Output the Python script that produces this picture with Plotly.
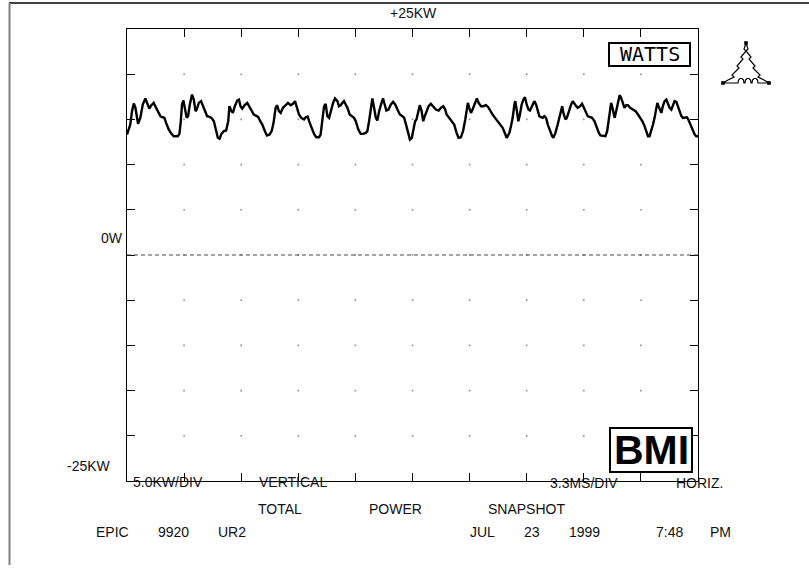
import plotly.graph_objects as go
import numpy as np

# ---------------- data ----------------
# time in ms (3.3 ms / div, 10 divisions), power in kW (5 kW / div)
TIME_MS = [
    0.00, 0.19, 0.29, 0.39, 0.48, 0.64, 0.77, 0.91, 1.06, 1.20,
    1.29, 1.41, 1.54, 1.68, 1.79, 1.93, 2.03, 2.16, 2.26, 2.41,
    2.57, 2.70, 2.93, 3.03, 3.11, 3.18, 3.26, 3.38, 3.45, 3.53,
    3.63, 3.76, 3.86, 3.96, 4.03, 4.15, 4.28, 4.40, 4.54, 4.63,
    4.77, 4.88, 5.02, 5.11, 5.25, 5.35, 5.46, 5.60, 5.73, 5.85,
    5.92, 6.02, 6.12, 6.23, 6.37, 6.47, 6.56, 6.66, 6.79, 6.95,
    7.08, 7.20, 7.33, 7.47, 7.58, 7.70, 7.82, 7.97, 8.09, 8.24,
    8.36, 8.47, 8.59, 8.67, 8.78, 8.88, 9.01, 9.17, 9.30, 9.46,
    9.59, 9.71, 9.82, 9.94, 10.07, 10.23, 10.33, 10.44, 10.56, 10.67,
    10.81, 10.94,
    11.10, 11.19, 11.29, 11.39, 11.48, 11.58, 11.68, 11.77, 11.91, 12.02,
    12.16, 12.25, 12.35, 12.45, 12.54, 12.64, 12.74, 12.87, 13.03, 13.12,
    13.22, 13.37, 13.51, 13.64, 13.80, 13.89, 13.99, 14.09, 14.18, 14.28,
    14.38, 14.47, 14.57, 14.71, 14.80, 14.92, 14.99, 15.11, 15.25, 15.38,
    15.50, 15.63, 15.77, 15.92, 16.02, 16.15, 16.27, 16.35, 16.46, 16.56,
    16.65, 16.73, 16.85, 16.92, 17.02, 17.12, 17.21, 17.31, 17.43, 17.56,
    17.70, 17.85, 18.01, 18.14, 18.28, 18.39, 18.47, 18.62, 18.78, 18.91,
    19.05, 19.16, 19.30, 19.43, 19.55, 19.63, 19.70, 19.78, 19.88, 19.97,
    20.13, 20.22, 20.32, 20.46, 20.59, 20.75, 20.88, 21.00, 21.13, 21.27,
    21.42, 21.56, 21.71, 21.87, 21.94,
    22.00, 22.10, 22.19, 22.29, 22.39, 22.44, 22.52, 22.62, 22.71, 22.81,
    22.91, 23.00, 23.10, 23.20, 23.29, 23.41, 23.54, 23.64, 23.74, 23.83,
    23.93, 24.03, 24.12, 24.22, 24.32, 24.41, 24.57, 24.64, 24.76, 24.89,
    24.99, 25.09, 25.15, 25.22, 25.34, 25.42, 25.53, 25.67, 25.76, 25.86,
    25.96, 26.05, 26.19, 26.30, 26.44, 26.54, 26.63, 26.77, 26.88, 27.02,
    27.15, 27.27, 27.36, 27.50, 27.65, 27.75, 27.85, 27.92, 27.98, 28.08,
    28.18, 28.27, 28.37, 28.47, 28.56, 28.66, 28.75, 28.85, 28.95, 29.08,
    29.24, 29.39, 29.53, 29.66, 29.78, 29.89, 30.01, 30.11, 30.20, 30.30,
    30.40, 30.49, 30.59, 30.65, 30.72, 30.78, 30.88, 30.97, 31.07, 31.17,
    31.26, 31.36, 31.46, 31.55, 31.65, 31.75, 31.84, 31.94, 32.04, 32.13,
    32.27, 32.36, 32.44, 32.52, 32.61, 32.71, 32.81, 32.90, 33.00,
]
POWER_KW = [
    13.33, 14.43, 15.91, 16.76, 16.35, 14.50, 15.17, 16.65, 17.31, 16.57,
    16.20, 16.57, 16.83, 16.28, 15.83, 15.36, 15.24, 15.17, 14.62, 13.88,
    13.40, 13.14, 13.14, 13.40, 14.80, 16.65, 17.09, 15.91, 15.17, 15.36,
    16.65, 17.75, 17.20, 15.91, 16.09, 16.83, 17.02, 16.46, 15.72, 15.36,
    15.28, 15.17, 14.80, 14.06, 12.96, 12.85, 13.40, 13.70, 13.77, 14.80,
    16.46, 15.98, 15.72, 16.46, 17.09, 17.20, 16.46, 16.20, 16.57, 16.83,
    16.46, 15.98, 15.54, 15.36, 15.28, 14.80, 14.43, 13.70, 13.22, 13.33,
    13.70, 14.62, 16.28, 16.57, 15.91, 15.72, 16.28, 16.57, 16.83, 16.57,
    16.72, 17.02, 16.28, 15.54, 15.17, 14.99, 15.24, 15.32, 14.62, 14.06,
    13.40, 13.03,
    13.03, 13.33, 15.17, 16.46, 16.72, 15.36, 15.17, 15.91, 16.83, 17.31,
    17.02, 16.46, 16.57, 16.83, 17.02, 16.65, 16.28, 15.54, 15.36, 15.17,
    14.80, 13.88, 13.40, 13.40, 13.51, 13.70, 14.80, 16.28, 17.31, 16.28,
    15.17, 14.88, 15.91, 16.83, 17.31, 16.46, 15.98, 16.09, 16.65, 16.94,
    16.65, 16.09, 15.54, 15.36, 15.17, 14.25, 13.14, 12.77, 12.96, 14.06,
    14.80, 14.99, 16.09, 16.57, 15.98, 14.80, 15.36, 15.91, 16.46, 16.72,
    16.46, 16.09, 15.98, 16.28, 16.46, 16.09, 15.54, 15.17, 14.80, 14.43,
    13.51, 12.96, 13.03, 13.77, 14.99, 16.35, 16.83, 16.28, 15.72, 16.09,
    16.83, 17.31, 16.83, 16.46, 16.46, 16.57, 16.35, 15.91, 15.54, 15.17,
    14.80, 14.43, 14.06, 13.33, 12.96,
    13.14, 13.51, 14.25, 15.17, 16.65, 17.02, 16.09, 14.80, 15.54, 16.65,
    17.20, 17.46, 16.65, 16.09, 15.98, 16.46, 17.02, 16.65, 15.91, 15.36,
    15.24, 15.17, 15.36, 15.17, 14.43, 13.88, 13.14, 12.96, 13.51, 14.43,
    15.36, 16.09, 16.46, 15.72, 14.99, 15.17, 15.91, 16.65, 17.02, 16.65,
    16.46, 16.28, 16.46, 16.72, 16.09, 15.72, 15.36, 15.24, 15.17, 14.80,
    14.06, 13.51, 13.22, 13.14, 13.14, 13.70, 15.17, 16.28, 16.83, 16.09,
    15.17, 15.91, 17.02, 17.68, 17.38, 16.65, 16.28, 16.57, 16.57, 16.28,
    16.09, 15.91, 15.54, 15.17, 14.80, 14.36, 13.70, 13.14, 13.14, 13.70,
    14.43, 15.17, 16.09, 16.83, 16.46, 16.09, 15.72, 16.46, 17.02, 17.20,
    16.83, 16.28, 16.09, 16.46, 17.02, 16.94, 16.46, 15.91, 15.36, 15.17,
    15.17, 15.24, 14.99, 14.62, 14.06, 13.70, 13.33, 13.14, 13.14,
]
X_DIVS_MS = [0, 3.3, 6.6, 9.9, 13.2, 16.5, 19.8, 23.1, 26.4, 29.7, 33.0]
Y_DIVS_KW = [-25, -20, -15, -10, -5, 0, 5, 10, 15, 20, 25]

assert len(TIME_MS) == len(POWER_KW), (len(TIME_MS), len(POWER_KW))

# ---------------- layout helpers ----------------
W, H = 809, 575
L, R, T, B = 127, 698, 29, 481          # plot area in pixels


def fx(x):
    return (x - L) / (R - L)


def fy(y):
    return (B - y) / (B - T)


FONT = "Liberation Sans, Arial, sans-serif"
INK = "#111111"

fig = go.Figure()

# grid dots at interior division intersections
gx, gy = np.meshgrid(X_DIVS_MS[1:-1], Y_DIVS_KW[1:-1])
fig.add_trace(go.Scatter(
    x=gx.ravel(), y=gy.ravel(), mode="markers",
    marker=dict(symbol="square", size=1.6, color="#8c8c8c", line=dict(width=0)),
    hoverinfo="skip", showlegend=False))

# the power waveform
fig.add_trace(go.Scatter(
    x=TIME_MS, y=POWER_KW, mode="lines",
    line=dict(color="#000000", width=2.4),
    showlegend=False))

axis_common = dict(
    showgrid=False, zeroline=False, showline=True, linecolor="#000000",
    linewidth=1, mirror="ticks", ticks="inside", ticklen=8, tickwidth=1,
    tickcolor="#000000", showticklabels=False, fixedrange=True)

fig.update_layout(
    width=W, height=H,
    margin=dict(l=L, r=W - R, t=T, b=H - B),
    paper_bgcolor="white", plot_bgcolor="white",
    xaxis=dict(range=[0, 33], tickmode="array", tickvals=X_DIVS_MS, **axis_common),
    yaxis=dict(range=[-25, 25], tickmode="array", tickvals=Y_DIVS_KW, **axis_common),
    font=dict(family=FONT, size=14, color=INK),
)

shapes = []
# page frame (top and left edges)
shapes.append(dict(type="line", xref="paper", yref="paper",
                   x0=fx(9), x1=fx(809), y0=fy(3), y1=fy(3),
                   line=dict(color="#000000", width=1.5)))
shapes.append(dict(type="line", xref="paper", yref="paper",
                   x0=fx(9.5), x1=fx(9.5), y0=fy(3), y1=fy(565),
                   line=dict(color="#808080", width=2)))
# zero reference (dashed)
shapes.append(dict(type="line", xref="x domain", yref="y",
                   x0=0, x1=1, y0=0, y1=0,
                   line=dict(color="#444444", width=1, dash="4px,3px")))
# WATTS box
shapes.append(dict(type="rect", xref="paper", yref="paper",
                   x0=fx(609), x1=fx(690), y0=fy(43), y1=fy(66),
                   line=dict(color="#000000", width=2), fillcolor="white"))
# BMI box
shapes.append(dict(type="rect", xref="paper", yref="paper",
                   x0=fx(610), x1=fx(692), y0=fy(428), y1=fy(472),
                   line=dict(color="#000000", width=2), fillcolor="white"))

# triangle logo (outline with zig-zag sides and coil base)
tri = [(746, 43), (748, 49), (746, 51), (751, 57), (749, 59), (755, 66),
       (753, 68), (760, 75), (758, 77), (764, 80), (769, 83), (758, 83)]
for a in (752, 745, 738):
    tri += [(a + 6, 83), (a + 5.5, 80), (a + 4, 78.5), (a + 2, 78.5),
            (a + 0.5, 80), (a, 83)]
tri += [(723, 83), (728, 80), (734, 77), (732, 75), (739, 68), (737, 66),
        (743, 59), (741, 57), (746, 51), (744, 49), (746, 43)]
path = "M " + " L ".join(f"{fx(px):.5f},{fy(py):.5f}" for px, py in tri)
shapes.append(dict(type="path", xref="paper", yref="paper", path=path,
                   line=dict(color="#000000", width=1.2)))
for cx, cy in [(746, 43), (723, 83), (769, 83)]:
    shapes.append(dict(type="rect", xref="paper", yref="paper",
                       x0=fx(cx - 1.8), x1=fx(cx + 1.8),
                       y0=fy(cy - 1.8), y1=fy(cy + 1.8),
                       line=dict(width=0), fillcolor="#000000"))

fig.update_layout(shapes=shapes)

# text labels: (text, x_px, y_px, anchor)
labels = [
    ("+25KW", 413, 13, "center"),
    ("0W", 125, 238, "right"),
    ("-25KW", 65, 466, "left"),
    ("5.0KW/DIV", 131, 482, "left"),
    ("VERTICAL", 257, 482, "left"),
    ("3.3MS/DIV", 548, 483, "left"),
    ("HORIZ.", 674, 483, "left"),
    ("TOTAL", 256, 509, "left"),
    ("POWER", 367, 509, "left"),
    ("SNAPSHOT", 486, 509, "left"),
    ("EPIC", 94, 532, "left"),
    ("9920", 156, 532, "left"),
    ("UR2", 216, 532, "left"),
    ("JUL", 468, 532, "left"),
    ("23", 522, 532, "left"),
    ("1999", 567, 532, "left"),
    ("7:48", 654, 532, "left"),
    ("PM", 708, 532, "left"),
]
ann = []
for text, x, y, anc in labels:
    ann.append(dict(text=text, xref="paper", yref="paper", x=fx(x), y=fy(y),
                    xanchor=anc, yanchor="middle", showarrow=False,
                    font=dict(family=FONT, size=14, color=INK)))
ann.append(dict(text="WATTS", xref="paper", yref="paper", x=fx(649.5), y=fy(54.5),
                xanchor="center", yanchor="middle", showarrow=False,
                font=dict(family="DejaVu Sans Mono, monospace",
                          size=20, color="#000000")))
ann.append(dict(text="<b>BMI</b>", xref="paper", yref="paper", x=fx(651), y=fy(450),
                xanchor="center", yanchor="middle", showarrow=False,
                font=dict(family=FONT, size=41, color="#000000")))
fig.update_layout(annotations=ann)

# the page is shown edge to edge (no default body margin), no mode bar
fig.write_html("out.html", config={"displayModeBar": False},
               post_script="document.body.style.margin='0px';")
